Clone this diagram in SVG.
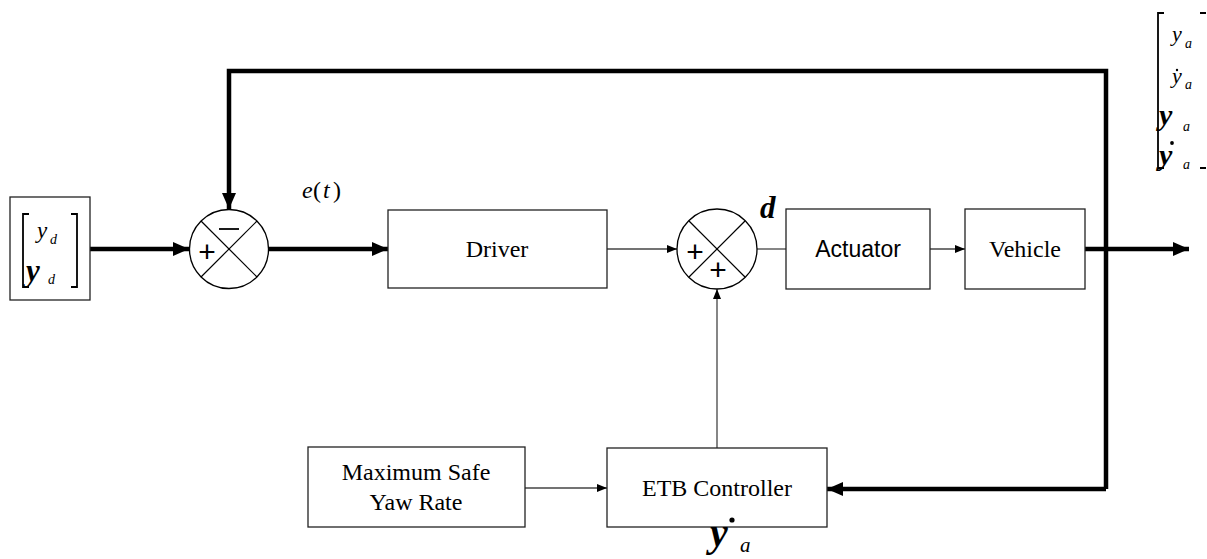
<svg xmlns="http://www.w3.org/2000/svg" width="1207" height="559" viewBox="0 0 1207 559">
<style>
.box{fill:#fff;stroke:#222;stroke-width:1.3}
.thin{fill:none;stroke:#444;stroke-width:1.3}
.thick{fill:none;stroke:#000;stroke-width:4.5;stroke-linecap:butt}
text{font-family:"Liberation Serif","Times New Roman",Tinos,"DejaVu Serif",serif;fill:#000}
text.s{font-family:"Liberation Sans",Arial,Arimo,"DejaVu Sans",sans-serif}
.i{font-style:italic}
.b{font-weight:bold}
.sum{fill:#fff;stroke:#000;stroke-width:1.3}
.x{stroke:#000;stroke-width:1.2}
.br{fill:none;stroke:#000;stroke-width:1.8}
</style>
<defs>
<marker id="ah" markerWidth="10" markerHeight="8" refX="10" refY="4" orient="auto" markerUnits="userSpaceOnUse">
<path d="M0,0 L10,4 L0,8 Z" fill="#000"/>
</marker>
<marker id="ahb" markerWidth="16" markerHeight="14" refX="16" refY="7" orient="auto" markerUnits="userSpaceOnUse">
<path d="M0,0 L16,7 L0,14 Z" fill="#000"/>
</marker>
</defs>

<g id="connectors">
<path class="thick" d="M90,249 H189" marker-end="url(#ahb)"/>
<path class="thick" d="M1106,489 V71 H229 V209" marker-end="url(#ahb)"/>
<path class="thick" d="M1106,489 H827" marker-end="url(#ahb)"/>
<path class="thick" d="M268,249 H388" marker-end="url(#ahb)"/>
<path class="thick" d="M1085,249 H1189" marker-end="url(#ahb)"/>
<path class="thin" d="M607,249 H677" marker-end="url(#ah)"/>
<path class="thin" d="M757,249 H786"/>
<path class="thin" d="M930,249 H965" marker-end="url(#ah)"/>
<path class="thin" d="M717,448 V289" marker-end="url(#ah)"/>
<path class="thin" d="M525,488 H607" marker-end="url(#ah)"/>
</g>

<g id="input">
<rect class="box" x="10" y="197" width="80" height="103"/>
<path class="br" d="M29,214 H23 V287 H29"/>
<path class="br" d="M71,214 H77 V287 H71"/>
<text class="i" x="37" y="238" font-size="23">y</text>
<text class="i" x="50" y="244" font-size="14">d</text>
<text class="i b" x="26" y="281" font-size="31">y</text>
<text class="i" x="48" y="284" font-size="14">d</text>
</g>

<g id="sum1">
<circle class="sum" cx="229" cy="249" r="39.5"/>
<line class="x" x1="201" y1="221" x2="257" y2="277"/>
<line class="x" x1="257" y1="221" x2="201" y2="277"/>
<text class="s" x="207" y="262" font-size="30" text-anchor="middle">+</text>
<line x1="219" y1="229" x2="239" y2="229" stroke="#000" stroke-width="1.8"/>
</g>

<g id="etlabel">
<text class="i" x="302" y="198" font-size="24">e</text>
<text x="313" y="198" font-size="24">(</text>
<text class="i" x="323" y="198" font-size="24">t</text>
<text x="333" y="198" font-size="24">)</text>
</g>

<g id="driver">
<rect class="box" x="388" y="210" width="219" height="78"/>
<text x="497" y="257" font-size="24" text-anchor="middle">Driver</text>
</g>

<g id="sum2">
<circle class="sum" cx="717" cy="249" r="40"/>
<line class="x" x1="689" y1="221" x2="745" y2="277"/>
<line class="x" x1="745" y1="221" x2="689" y2="277"/>
<text class="s" x="695" y="262" font-size="30" text-anchor="middle">+</text>
<text class="s" x="718" y="280" font-size="30" text-anchor="middle">+</text>
</g>

<g id="dlabel">
<text class="i b" x="760" y="218" font-size="31">d</text>
</g>

<g id="actuator">
<rect class="box" x="786" y="209" width="144" height="80"/>
<text class="s" x="858" y="257" font-size="23" text-anchor="middle">Actuator</text>
</g>

<g id="vehicle">
<rect class="box" x="965" y="209" width="120" height="80"/>
<text x="1025" y="257" font-size="24" text-anchor="middle">Vehicle</text>
</g>

<g id="maxsafe">
<rect class="box" x="308" y="447" width="217" height="80"/>
<text x="416" y="480" font-size="24" text-anchor="middle">Maximum Safe</text>
<text x="416" y="510" font-size="24" text-anchor="middle">Yaw Rate</text>
</g>

<g id="etb">
<rect class="box" x="607" y="448" width="220" height="79"/>
<text x="717" y="496" font-size="24" text-anchor="middle">ETB Controller</text>
</g>

<g id="yadot">
<text class="i b" x="710" y="546" font-size="40">y</text>
<circle cx="732" cy="520" r="2.6" fill="#000"/>
<text class="i" x="740" y="552" font-size="21">a</text>
</g>

<g id="outvec">
<path class="br" d="M1164,13 H1158 V168 H1164"/>
<path class="br" d="M1200,13 H1206 M1200,168 H1206"/>
<text class="i" x="1172" y="41" font-size="22">y</text>
<text class="i" x="1185" y="48" font-size="14">a</text>
<text class="i" x="1172" y="83" font-size="22">y</text>
<circle cx="1177" cy="70" r="1.2" fill="#000"/>
<text class="i" x="1185" y="89" font-size="14">a</text>
<text class="i b" x="1159" y="125" font-size="30">y</text>
<text class="i" x="1183" y="131" font-size="14">a</text>
<text class="i b" x="1159" y="165" font-size="30">y</text>
<circle cx="1172" cy="143" r="1.9" fill="#000"/>
<text class="i" x="1183" y="169" font-size="14">a</text>
</g>
</svg>
